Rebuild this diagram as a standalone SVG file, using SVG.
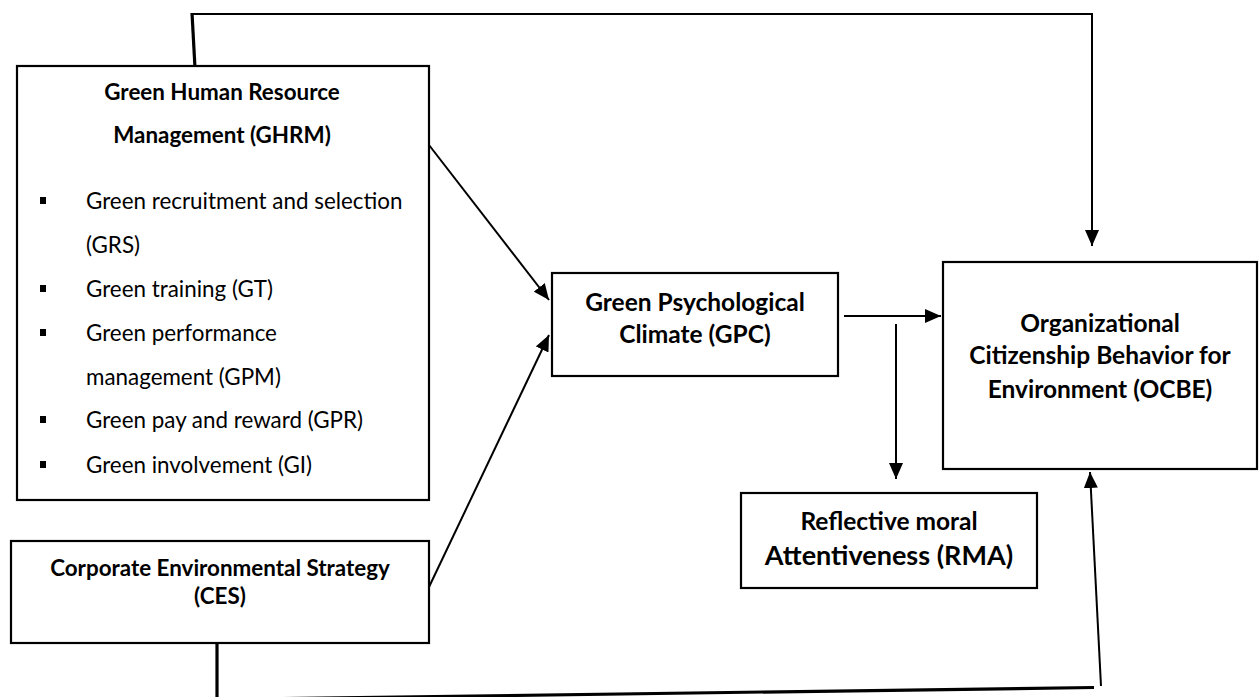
<svg xmlns="http://www.w3.org/2000/svg" width="1259" height="697" viewBox="0 0 1259 697">
<style>
.box{fill:#fff;stroke:#000;stroke-width:2.2}
.t{font-family:Lato,"Liberation Sans",sans-serif;font-size:22.4px;fill:#000}
.b{font-weight:bold;text-anchor:middle}
.lg{font-size:24.5px}
.ln{stroke:#000;stroke-width:2;fill:none}
.thick{stroke:#000;stroke-width:3.2;fill:none}
.bul{fill:#000}
</style>
<defs>
<marker id="ah" viewBox="0 0 16 14" refX="16" refY="7" markerWidth="16" markerHeight="14" markerUnits="userSpaceOnUse" orient="auto">
<path d="M0,0 L16,7 L0,14 Z" fill="#000"/>
</marker>
</defs>
<g id="connectors">
<line class="thick" x1="195" y1="68" x2="192" y2="13"/>
<polyline class="ln" points="191,14 1092,14 1092,246" marker-end="url(#ah)"/>
<line class="ln" x1="429" y1="145" x2="549" y2="300" marker-end="url(#ah)"/>
<line class="ln" x1="429" y1="587" x2="549" y2="335" marker-end="url(#ah)"/>
<line class="ln" x1="844" y1="316" x2="941" y2="316" marker-end="url(#ah)"/>
<line class="ln" x1="896" y1="324" x2="896" y2="479" marker-end="url(#ah)"/>
<line class="thick" x1="217" y1="643" x2="217" y2="700"/>
<line class="thick" x1="217" y1="699.5" x2="1094" y2="687.5"/>
<line class="ln" x1="1101" y1="686" x2="1090" y2="472" marker-end="url(#ah)"/>
</g>
<g id="ghrm">
<rect class="box" x="17" y="66" width="412" height="434"/>
<text class="t b" x="222" y="100">Green Human Resource</text>
<text class="t b" x="222" y="143">Management (GHRM)</text>
<rect class="bul" x="40" y="197" width="6" height="7"/>
<text class="t" x="86" y="209">Green recruitment and selection</text>
<text class="t" x="86" y="253">(GRS)</text>
<rect class="bul" x="40" y="285" width="6" height="7"/>
<text class="t" x="86" y="297">Green training (GT)</text>
<rect class="bul" x="40" y="329" width="6" height="7"/>
<text class="t" x="86" y="341">Green performance</text>
<text class="t" x="86" y="385">management (GPM)</text>
<rect class="bul" x="40" y="416" width="6" height="7"/>
<text class="t" x="86" y="428">Green pay and reward (GPR)</text>
<rect class="bul" x="40" y="461" width="6" height="7"/>
<text class="t" x="86" y="473">Green involvement (GI)</text>
</g>
<g id="ces">
<rect class="box" x="11" y="541" width="418" height="102"/>
<text class="t b" x="220" y="576">Corporate Environmental Strategy</text>
<text class="t b" x="220" y="604">(CES)</text>
</g>
<g id="gpc">
<rect class="box" x="552" y="273" width="286" height="103"/>
<text class="t b lg" x="695" y="311">Green Psychological</text>
<text class="t b lg" x="695" y="343">Climate (GPC)</text>
</g>
<g id="ocbe">
<rect class="box" x="943" y="262" width="314" height="207"/>
<text class="t b lg" x="1100" y="332">Organizational</text>
<text class="t b lg" x="1100" y="364">Citizenship Behavior for</text>
<text class="t b lg" x="1100" y="398">Environment (OCBE)</text>
</g>
<g id="rma">
<rect class="box" x="741" y="493" width="296" height="95"/>
<text class="t b lg" x="889" y="530">Reflective moral</text>
<text class="t b" x="889" y="565" style="font-size:27px">Attentiveness (RMA)</text>
</g>
</svg>
